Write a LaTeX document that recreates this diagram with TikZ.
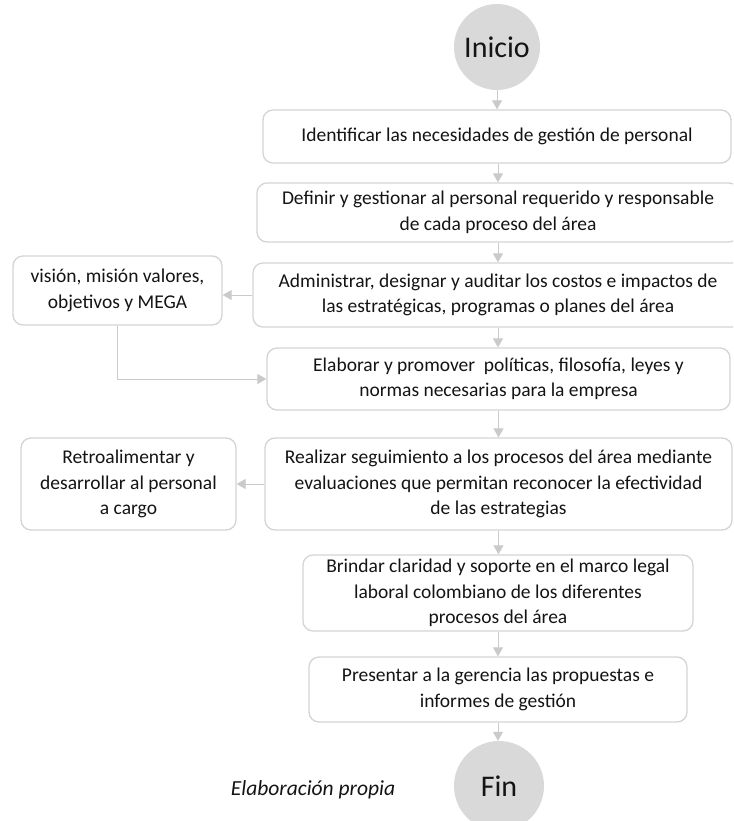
\documentclass[tikz,border=0pt]{standalone}
\usepackage{fontspec}
\setmainfont{Carlito}
\usetikzlibrary{arrows.meta}
\definecolor{boxline}{HTML}{D4D4D4}
\definecolor{arrowc}{HTML}{CACACA}
\definecolor{circfill}{HTML}{D9D9D9}
\definecolor{txt}{HTML}{141414}
\begin{document}
\begin{tikzpicture}[x=1pt,y=-1pt,
  stepbox/.style={draw=boxline, line width=1.3pt, rounded corners=10pt, fill=white,
    inner sep=0pt, align=center, text=txt,
    font=\fontsize{19.5}{25.5}\selectfont},
  endcirc/.style={circle, fill=circfill, draw=none, inner sep=0pt,
    minimum size=#1, text=txt, font=\fontsize{30}{34}\selectfont},
  conn/.style={draw=arrowc, line width=1pt,
    -{Triangle[width=10pt,length=9pt]}, arrowc}
]
\useasboundingbox (0,0) rectangle (733,821);
\clip (0,0) rectangle (733,821);

\node[endcirc=86pt] (ini) at (497,47) {Inicio};
\node[stepbox, minimum width=468pt, minimum height=53pt] (b1) at (497,136.5)
  {Identificar las necesidades de gestión de personal};
\node[stepbox, minimum width=482pt, minimum height=59pt] (b2) at (498,212.5)
  {Definir y gestionar al personal requerido y responsable\\de cada proceso del área};
\node[stepbox, minimum width=490pt, minimum height=64pt] (b3) at (498,295)
  {Administrar, designar y auditar los costos e impactos de\\las estratégicas, programas o planes del área};
\node[stepbox, minimum width=463pt, minimum height=62pt] (b4) at (498.5,379)
  {Elaborar y promover\ \ políticas, filosofía, leyes y\\normas necesarias para la empresa};
\node[stepbox, minimum width=467pt, minimum height=92pt] (b5) at (498.5,484)
  {Realizar seguimiento a los procesos del área mediante\\evaluaciones que permitan reconocer la efectividad\\de las estrategias};
\node[stepbox, minimum width=390pt, minimum height=76pt] (b6) at (498,593)
  {Brindar claridad y soporte en el marco legal\\laboral colombiano de los diferentes\\procesos del área};
\node[stepbox, minimum width=378pt, minimum height=65pt] (b7) at (498,689.5)
  {Presentar a la gerencia las propuestas e\\informes de gestión};
\node[endcirc=90pt] (fin) at (499,786) {Fin};

\node[stepbox, minimum width=209pt, minimum height=69pt] (vis) at (117.5,290.5)
  {visión, misión valores,\\objetivos y MEGA};
\node[stepbox, minimum width=215pt, minimum height=92pt] (ret) at (128.5,484)
  {Retroalimentar y\\desarrollar al personal\\a cargo};

\node[text=txt, font=\fontsize{21.5}{26}\selectfont\itshape] (src) at (313,790) {Elaboración propia};

\draw[conn] (ini.south) -- (b1.north -| ini.south);
\draw[conn] (b1.south -| b2.north) -- (b2.north);
\draw[conn] (b2.south) -- (b3.north);
\draw[conn] (b3.south) -- (b4.north -| b3.south);
\draw[conn] (b4.south) -- (b5.north);
\draw[conn] (b5.south) -- (b6.north -| b5.south);
\draw[conn] (b6.south) -- (b7.north);
\draw[conn] (b7.south) -- (fin.north -| b7.south);
\draw[conn] (b3.west) -- (vis.east |- b3.west);
\draw[conn] (b5.west) -- (ret.east);
\draw[conn] (vis.south) |- (b4.west);
\end{tikzpicture}
\end{document}
